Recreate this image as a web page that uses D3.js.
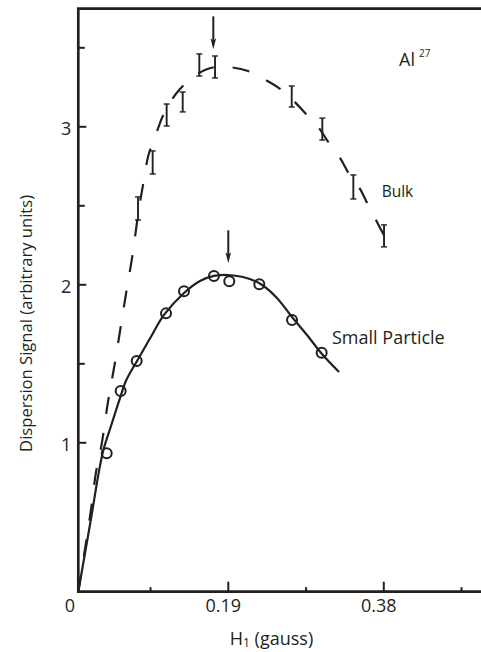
<!DOCTYPE html>
<html>
<head>
<meta charset="utf-8">
<script src="https://cdn.jsdelivr.net/npm/d3@7"></script>
<style>
  body { margin: 0; background: #fff; }
  svg { display: block; }
  text { font-family: "Open Sans", sans-serif; fill: #231f20; }
</style>
</head>
<body>
<svg id="chart" width="481" height="652"></svg>
<script>
// Tick values: H1 field (gauss) and dispersion signal (arbitrary units)
const xMajorTicks = [0.19, 0.38];
const xMinorTicks = [0.095, 0.285, 0.475];
const yMajorTicks = [1, 2, 3];
const yMinorTicks = [1.5, 2.5, 3.5];

// Small particle sample: measured points (circles)
const smallX = [0.042, 0.0591, 0.0787, 0.1145, 0.1365, 0.1731, 0.1918, 0.2285, 0.2685, 0.3047];
const smallY = [0.930, 1.325, 1.515, 1.816, 1.956, 2.053, 2.019, 2.000, 1.774, 1.567];

// Small particle sample: smooth curve through the data
const smallCurveX = [0.0073, 0.0222, 0.0371, 0.0473, 0.0583, 0.0660, 0.0791, 0.0949, 0.1120, 0.1365,
                     0.1560, 0.1731, 0.1903, 0.2086, 0.2281, 0.2489, 0.2685, 0.2868, 0.3051, 0.3259];
const smallCurveY = [0.054, 0.496, 0.932, 1.103, 1.280, 1.394, 1.515, 1.657, 1.806, 1.945,
                     2.021, 2.053, 2.059, 2.046, 2.008, 1.920, 1.793, 1.679, 1.559, 1.445];

// Bulk sample: measured ranges (error bars)
const bulkX    = [0.0803, 0.0982, 0.1153, 0.1349, 0.1552, 0.1744, 0.2681, 0.3055, 0.3434, 0.3809];
const bulkLow  = [2.407, 2.698, 3.002, 3.091, 3.318, 3.306, 3.122, 2.913, 2.540, 2.237];
const bulkHigh = [2.553, 2.844, 3.141, 3.217, 3.458, 3.445, 3.255, 3.052, 2.692, 2.376];

// Bulk sample: dashed curve
const bulkCurveX = [0.0073, 0.0228, 0.0290, 0.0357, 0.0436, 0.0516, 0.0589, 0.0662, 0.0736, 0.0803,
                    0.0864, 0.0931, 0.1011, 0.1096, 0.1181, 0.1316, 0.1475, 0.1621, 0.1743, 0.1914,
                    0.2146, 0.2342, 0.2525, 0.2696, 0.2855, 0.3014, 0.3136, 0.3271, 0.3381, 0.3515,
                    0.3613, 0.3723, 0.3882];
const bulkCurveY = [0.054, 0.572, 0.812, 0.983, 1.255, 1.489, 1.723, 1.958, 2.186, 2.439,
                    2.629, 2.818, 2.932, 3.053, 3.141, 3.236, 3.312, 3.356, 3.375, 3.375,
                    3.350, 3.299, 3.242, 3.166, 3.078, 2.989, 2.894, 2.800, 2.699, 2.604,
                    2.503, 2.395, 2.237];

// Arrows marking the field at the signal maximum
const arrowX    = [0.1723, 0.1906];
const arrowTipY = [3.487, 2.133];

const ink = "#231f20";
const svg = d3.select("#chart");

// Plot frame
const frameLeft = 78.3, frameTop = 8.7, frameBottom = 591.7, frameRight = 481;

const x = d3.scaleLinear().domain([0, 0.5]).range([72.3, 481.5]);
const y = d3.scaleLinear().domain([0, 3.75]).range([600.3, 7.8]);

// Frame: top, left and bottom rules
svg.append("path")
  .attr("d", `M${frameRight},${frameTop}H${frameLeft}V${frameBottom}H${frameRight}`)
  .attr("fill", "none").attr("stroke", ink).attr("stroke-width", 2.7);

// X axis ticks (inward)
const xMinorAxis = d3.axisBottom(x).tickValues(xMinorTicks).tickSize(-4.5).tickFormat("");
const xMajorAxis = d3.axisBottom(x).tickValues(xMajorTicks).tickSize(-10).tickFormat(d3.format(".2f"));
[xMinorAxis, xMajorAxis].forEach(ax => {
  const g = svg.append("g").attr("transform", `translate(0,${frameBottom})`).call(ax);
  g.select(".domain").remove();
  g.selectAll("line").attr("stroke", ink).attr("stroke-width", 2);
  g.selectAll("text").attr("y", 20).attr("dy", 0).attr("dx", -5)
    .attr("font-size", 18).attr("font-family", "Open Sans, sans-serif").attr("fill", ink);
});

// Y axis ticks (inward)
const yMinorAxis = d3.axisLeft(y).tickValues(yMinorTicks).tickSize(-6.5).tickFormat("");
const yMajorAxis = d3.axisLeft(y).tickValues(yMajorTicks).tickSize(-8).tickFormat(d3.format("d"));
[yMinorAxis, yMajorAxis].forEach(ax => {
  const g = svg.append("g").attr("transform", `translate(${frameLeft},0)`).call(ax);
  g.select(".domain").remove();
  g.selectAll("line").attr("stroke", ink).attr("stroke-width", 2);
  g.selectAll("text").attr("x", -7).attr("dy", 8.5)
    .attr("font-size", 18).attr("font-family", "Open Sans, sans-serif").attr("fill", ink);
});

// Origin label
svg.append("text").attr("x", 70).attr("y", 611.7).attr("text-anchor", "middle")
  .attr("font-size", 18).text("0");

// Curves
const line = d3.line().x(d => x(d[0])).y(d => y(d[1])).curve(d3.curveCatmullRom.alpha(0.5));

svg.append("path")
  .attr("d", line(bulkCurveX.map((v, i) => [v, bulkCurveY[i]])))
  .attr("fill", "none").attr("stroke", ink).attr("stroke-width", 2.2)
  .attr("stroke-dasharray", "17,19");

svg.append("path")
  .attr("d", line(smallCurveX.map((v, i) => [v, smallCurveY[i]])))
  .attr("fill", "none").attr("stroke", ink).attr("stroke-width", 2.2);

// Bulk error bars
const bars = svg.append("g").attr("stroke", ink).attr("fill", "none");
bulkX.forEach((v, i) => {
  const cx = x(v), y0 = y(bulkLow[i]), y1 = y(bulkHigh[i]);
  bars.append("line").attr("x1", cx).attr("x2", cx).attr("y1", y0).attr("y2", y1).attr("stroke-width", 1.9);
  bars.append("line").attr("x1", cx - 3).attr("x2", cx + 3).attr("y1", y0).attr("y2", y0).attr("stroke-width", 1.4);
  bars.append("line").attr("x1", cx - 3).attr("x2", cx + 3).attr("y1", y1).attr("y2", y1).attr("stroke-width", 1.4);
});

// Small particle circles
svg.append("g").selectAll("circle")
  .data(smallX.map((v, i) => [v, smallY[i]]))
  .join("circle")
  .attr("cx", d => x(d[0])).attr("cy", d => y(d[1])).attr("r", 5)
  .attr("fill", "none").attr("stroke", ink).attr("stroke-width", 2);

// Peak arrows
arrowX.forEach((v, i) => {
  const ax = x(v), tip = y(arrowTipY[i]);
  svg.append("line").attr("x1", ax).attr("x2", ax).attr("y1", tip - 33).attr("y2", tip - 8)
    .attr("stroke", ink).attr("stroke-width", 2);
  svg.append("path")
    .attr("d", `M${ax - 2.8},${tip - 11}L${ax},${tip - 8.5}L${ax + 2.8},${tip - 11}L${ax},${tip}Z`)
    .attr("fill", ink);
});

// Series labels
const al = svg.append("text").attr("x", 399).attr("y", 65.7).attr("font-size", 18);
al.append("tspan").text("Al");
al.append("tspan").attr("font-size", 10).attr("dx", 4).attr("dy", -9).text("27");

svg.append("text").attr("x", 381.7).attr("y", 196.7).attr("font-size", 15.5).text("Bulk");
svg.append("text").attr("x", 332).attr("y", 344).attr("font-size", 18).text("Small Particle");

// Axis titles
svg.append("text")
  .attr("transform", "translate(32,323.4) rotate(-90)")
  .attr("text-anchor", "middle").attr("font-size", 16.6)
  .text("Dispersion Signal (arbitrary units)");

const xt = svg.append("text").attr("x", 271.5).attr("y", 645)
  .attr("text-anchor", "middle").attr("font-size", 18);
xt.append("tspan").text("H");
xt.append("tspan").attr("font-size", 12).attr("dy", 2).text("1");
xt.append("tspan").attr("dy", -2).text(" (gauss)");
</script>
</body>
</html>
